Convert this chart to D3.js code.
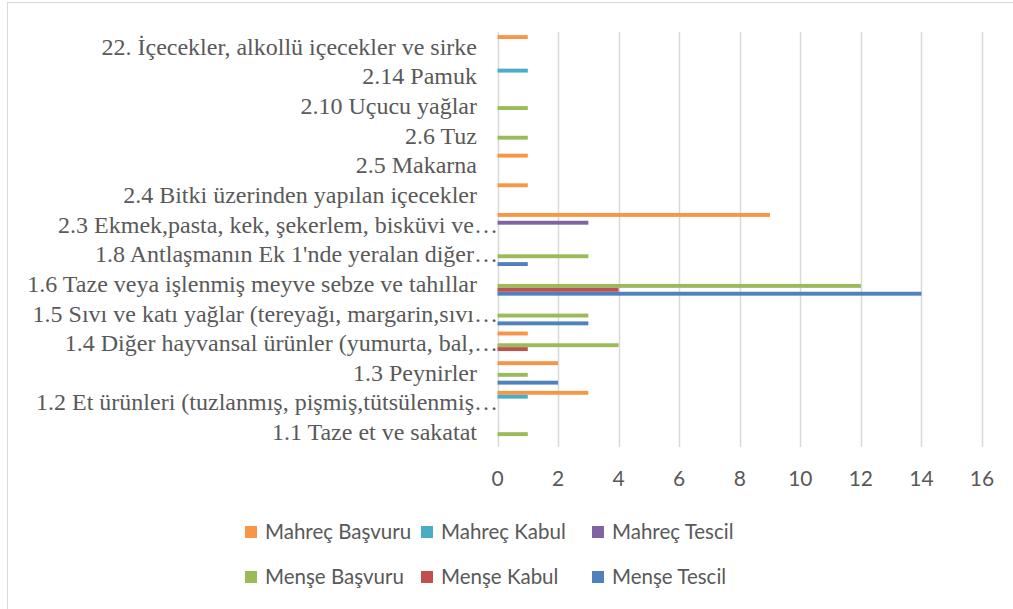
<!DOCTYPE html>
<html>
<head>
<meta charset="utf-8">
<script src="https://cdn.jsdelivr.net/npm/d3@7"></script>
<style>
  body { margin: 0; background: #fff; }
</style>
</head>
<body>
<div id="chart"></div>
<script>
// categories, top to bottom as they appear
var categories = [
    "22. İçecekler, alkollü içecekler ve sirke",
    "2.14 Pamuk",
    "2.10 Uçucu yağlar",
    "2.6 Tuz",
    "2.5 Makarna",
    "2.4 Bitki üzerinden yapılan içecekler",
    "2.3 Ekmek,pasta, kek, şekerlem, bisküvi ve…",
    "1.8 Antlaşmanın Ek 1'nde yeralan diğer…",
    "1.6 Taze veya işlenmiş meyve sebze ve tahıllar",
    "1.5 Sıvı ve katı yağlar (tereyağı, margarin,sıvı…",
    "1.4 Diğer hayvansal ürünler (yumurta, bal,…",
    "1.3 Peynirler",
    "1.2 Et ürünleri (tuzlanmış, pişmiş,tütsülenmiş…",
    "1.1 Taze et ve sakatat"
]

var seriesNames = ["Mahreç Başvuru", "Mahreç Kabul", "Mahreç Tescil", "Menşe Başvuru", "Menşe Kabul", "Menşe Tescil"]
var seriesColors = ["#F79646", "#4BACC6", "#8064A2", "#9BBB59", "#C0504D", "#4F81BD"]

var mahrecBasvuru = [1, 0, 0, 0, 1, 1, 9, 0, 0, 0, 1, 2, 3, 0]
var mahrecKabul   = [0, 1, 0, 0, 0, 0, 0, 0, 0, 0, 0, 0, 1, 0]
var mahrecTescil  = [0, 0, 0, 0, 0, 0, 3, 0, 0, 0, 0, 0, 0, 0]
var menseBasvuru  = [0, 0, 1, 1, 0, 0, 0, 3, 12, 3, 4, 1, 0, 1]
var menseKabul    = [0, 0, 0, 0, 0, 0, 0, 0, 4, 0, 1, 0, 0, 0]
var menseTescil   = [0, 0, 0, 0, 0, 0, 0, 1, 14, 3, 0, 2, 0, 0]

var xTicks = [0, 2, 4, 6, 8, 10, 12, 14, 16]

var seriesValues = [mahrecBasvuru, mahrecKabul, mahrecTescil, menseBasvuru, menseKabul, menseTescil]

var width = 1013, height = 609
var svg = d3.select("#chart").append("svg")
    .attr("width", width)
    .attr("height", height)

// chart border
svg.append("rect")
    .attr("x", 7.5).attr("y", 2.5)
    .attr("width", width).attr("height", height)
    .attr("fill", "none")
    .attr("stroke", "#d9d9d9")

var x = d3.scaleLinear().domain([0, 16]).range([497.5, 982])
var y0 = d3.scaleBand().domain(categories).range([32, 447])
var y1 = d3.scaleBand().domain(seriesNames).range([0, y0.bandwidth()]).paddingOuter(0.8)
var color = d3.scaleOrdinal().domain(seriesNames).range(seriesColors)

// gridlines
svg.append("g")
    .selectAll("line")
    .data(xTicks)
    .join("line")
    .attr("x1", d => Math.round(x(d)) + 0.5)
    .attr("x2", d => Math.round(x(d)) + 0.5)
    .attr("y1", 32)
    .attr("y2", 447)
    .attr("stroke", "#d9d9d9")
    .attr("stroke-width", 1.5)

// x tick labels
svg.append("g")
    .selectAll("text")
    .data(xTicks)
    .join("text")
    .attr("x", d => x(d))
    .attr("y", 479)
    .attr("dy", "0.35em")
    .attr("text-anchor", "middle")
    .attr("font-family", "Lato, 'Open Sans', sans-serif")
    .attr("font-size", 21)
    .attr("fill", "#595959")
    .text(d => d)

// bars
var rows = categories.map((c, i) => ({
    cat: c,
    vals: seriesNames.map((s, j) => ({ name: s, value: seriesValues[j][i] }))
}))

var group = svg.append("g")
    .selectAll("g")
    .data(rows)
    .join("g")
    .attr("transform", d => "translate(0," + y0(d.cat) + ")")

group.selectAll("rect")
    .data(d => d.vals.filter(v => v.value > 0))
    .join("rect")
    .attr("x", x(0))
    .attr("y", d => y1(d.name))
    .attr("width", d => x(d.value) - x(0))
    .attr("height", y1.bandwidth())
    .attr("fill", d => color(d.name))

// category labels (cut ones run a bit past the others, as in Excel)
svg.append("g")
    .selectAll("text")
    .data(categories)
    .join("text")
    .attr("x", d => d.endsWith("…") ? 498 : 477)
    .attr("y", d => y0(d) + y0.bandwidth() / 2)
    .attr("dy", "0.33em")
    .attr("text-anchor", "end")
    .attr("font-family", "'Liberation Serif', 'Times New Roman', serif")
    .attr("font-size", 24)
    .attr("fill", "#595959")
    .text(d => d)

// legend
var legendCols = [245, 421, 592]
var legendRows = [532, 577]

var legend = svg.append("g")
    .selectAll("g")
    .data(seriesNames)
    .join("g")
    .attr("transform", (d, i) => "translate(" + legendCols[i % 3] + "," + legendRows[Math.floor(i / 3)] + ")")

legend.append("rect")
    .attr("x", 0)
    .attr("y", -6)
    .attr("width", 12)
    .attr("height", 12)
    .attr("fill", d => color(d))

legend.append("text")
    .attr("x", 20)
    .attr("y", 0)
    .attr("dy", "0.35em")
    .attr("font-family", "Lato, 'Open Sans', sans-serif")
    .attr("font-size", 20.5)
    .attr("fill", "#595959")
    .text(d => d)
</script>
</body>
</html>
